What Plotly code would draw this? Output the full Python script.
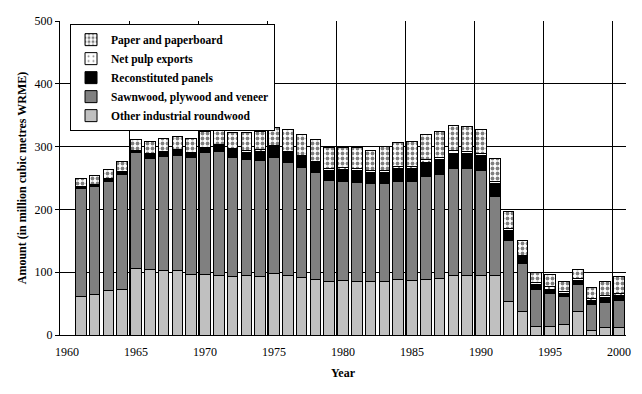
import plotly.graph_objects as go

years = list(range(1961, 2001))

other = [61.4, 64.6, 70.9, 72.5, 105.8, 104.2, 102.6, 102.6, 96.3, 96.3,
         94.7, 93.1, 94.7, 93.1, 97.9, 94.7, 91.5, 88.4, 85.2, 86.8,
         85.2, 85.2, 85.2, 88.4, 86.8, 88.4, 90.0, 94.7, 94.7, 94.7,
         94.7, 53.4, 37.6, 13.8, 13.8, 17.0, 37.6, 7.4, 12.2, 12.2]
sawn = [172.5, 172.4, 174.1, 183.5, 184.2, 177.3, 182.0, 183.6, 185.7, 193.7,
        197.9, 189.9, 185.2, 184.7, 185.1, 180.3, 175.7, 170.8, 161.3, 158.2,
        158.2, 156.1, 156.1, 156.6, 158.2, 164.5, 166.0, 169.9, 169.9, 167.2,
        125.9, 97.4, 75.6, 58.1, 51.8, 43.8, 42.2, 40.7, 39.1, 42.2]
recon = [3.1, 2.7, 3.7, 4.3, 4.2, 6.9, 7.4, 8.5, 9.0, 7.9,
         10.0, 11.7, 11.1, 14.8, 17.0, 15.0, 17.4, 14.9, 15.4, 18.0,
         18.5, 17.9, 17.9, 19.6, 20.6, 22.1, 22.8, 24.8, 23.8, 23.8,
         21.2, 15.9, 11.1, 9.1, 6.9, 5.4, 7.5, 6.9, 8.5, 8.2]
pulp = [0, 0, 0, 0, 0, 0, 0, 0, 0, 1,
        1, 2, 3, 2, 2, 2, 2, 2, 3, 3,
        3, 3, 3, 3, 3, 4, 4, 4, 4, 4,
        3, 3, 3, 3, 4, 3, 3, 3, 3, 4]
paper = [12.2, 13.8, 14.8, 15.9, 16.8, 19.6, 20.7, 21.2, 21.7, 24.9,
         24.4, 26.0, 27.7, 29.2, 29.2, 34.5, 33.4, 36.0, 34.1, 33.0,
         33.0, 32.0, 38.3, 38.2, 38.8, 41.0, 41.0, 41.0, 40.4, 36.8,
         35.6, 26.6, 23.5, 15.5, 19.8, 16.0, 14.0, 17.7, 22.4, 26.8]

tick_years = [1960, 1965, 1970, 1975, 1980, 1985, 1990, 1995, 2000]

FONT = "Liberation Serif"
line = dict(color="black", width=1)

fig = go.Figure()
fig.add_bar(x=years, y=other, name="Other industrial roundwood",
            marker=dict(color="#C0C0C0", line=line))
fig.add_bar(x=years, y=sawn, name="Sawnwood, plywood and veneer",
            marker=dict(color="#808080", line=line))
fig.add_bar(x=years, y=recon, name="Reconstituted panels",
            marker=dict(color="black", line=line))
fig.add_bar(x=years, y=pulp, name="Net pulp exports",
            marker=dict(color="white", line=line,
                        pattern=dict(shape=".", fgcolor="black", bgcolor="white",
                                     size=6, solidity=0.12)))
fig.add_bar(x=years, y=paper, name="Paper and paperboard",
            marker=dict(color="white", line=line,
                        pattern=dict(shape=".", fgcolor="black", bgcolor="white",
                                     size=5, solidity=0.45)))

fig.update_layout(
    width=642, height=394,
    barmode="stack", bargap=0.23,
    paper_bgcolor="white", plot_bgcolor="white",
    margin=dict(l=60, r=16, t=21, b=59),
    font=dict(family=FONT, size=12, color="black"),
    showlegend=True,
    legend=dict(x=0.0177, y=0.99, xanchor="left", yanchor="top",
                traceorder="reversed", bgcolor="white",
                bordercolor="black", borderwidth=1,
                font=dict(family=FONT, size=11.5, color="black", weight="bold"),
                itemwidth=30, tracegroupgap=0),
)
fig.update_xaxes(
    range=[1959.5, 2000.5], tickmode="array", tickvals=tick_years,
    ticktext=[str(y) for y in tick_years],
    showgrid=False, showline=True, linecolor="black", linewidth=1,
    ticks="", zeroline=False, ticklabelstandoff=6,
    tickfont=dict(family=FONT, size=12, color="black"),
    minor=dict(tick0=1964.5, dtick=5, showgrid=True, gridcolor="black",
               gridwidth=1, ticks=""),
    title=dict(text="<b>Year</b>", font=dict(family=FONT, size=12, color="black"),
               standoff=10),
    automargin=False,
)
fig.update_yaxes(
    range=[0, 500], tickmode="linear", tick0=0, dtick=100,
    showgrid=True, gridcolor="black", gridwidth=1,
    showline=True, linecolor="black", linewidth=1,
    ticks="outside", ticklen=4, tickcolor="black", zeroline=False,
    tickfont=dict(family=FONT, size=12, color="black"),
    title=dict(text="<b>Amount (in million cubic metres WRME)</b>",
               font=dict(family=FONT, size=12, color="black"), standoff=5),
    automargin=False,
)

fig.write_html("out.html", config={"displayModeBar": False},
               post_script="document.body.style.margin='0';")
